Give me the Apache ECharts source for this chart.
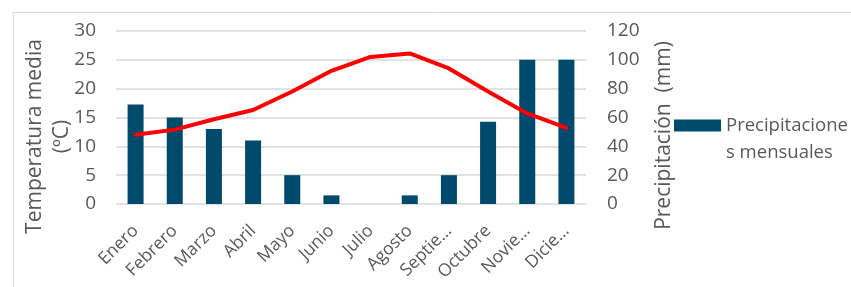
<!DOCTYPE html>
<html>
<head>
<meta charset="utf-8">
<script src="https://cdn.jsdelivr.net/npm/echarts@6/dist/echarts.min.js"></script>
<style>
  html, body { margin: 0; padding: 0; background: #fff; }
  #chart { width: 851px; height: 287px; }
</style>
</head>
<body>
<div id="chart"></div>
<script>
// Meses y etiquetas tal como salen en el eje
var meses = ['Enero', 'Febrero', 'Marzo', 'Abril', 'Mayo', 'Junio', 'Julio', 'Agosto', 'Septiembre', 'Octubre', 'Noviembre', 'Diciembre'];
var etiquetasMes = ['Enero', 'Febrero', 'Marzo', 'Abril', 'Mayo', 'Junio', 'Julio', 'Agosto', 'Septie…', 'Octubre', 'Novie…', 'Dicie…'];

// Temperatura media (ºC) - eje izquierdo
var temperatura = [12.0, 12.9, 14.7, 16.3, 19.5, 23.1, 25.5, 26.1, 23.5, 19.5, 15.7, 13.2];
// Precipitaciones mensuales (mm) - eje derecho
var precipitacion = [69, 60, 52, 44, 20, 6, 0, 6, 20, 57, 100, 100];

var GRIS = '#595959';
var FUENTE = '"Open Sans", "Noto Sans", sans-serif';

var chart = echarts.init(document.getElementById('chart'));

chart.setOption({
    animation: false,
    textStyle: { fontFamily: FUENTE },
    graphic: [{
        type: 'rect',
        left: 11, top: 10,
        shape: { width: 845, height: 290 },
        style: { fill: 'none', stroke: '#d9d9d9', lineWidth: 1 },
        silent: true
    }],
    grid: { left: 116, right: 265, top: 31, bottom: 83, outerBoundsMode: 'none', containLabel: false },
    legend: {
        data: ['Precipitaciones mensuales'],
        left: 674, top: 85,
        padding: 0,
        itemWidth: 47, itemHeight: 12,
        itemGap: 5,
        icon: 'rect',
        // linea vacia arriba para que el rectangulo quede a la altura de la primera linea
        formatter: function () { return '\nPrecipitacione\ns mensuales'; },
        textStyle: { color: GRIS, fontSize: 18.5, lineHeight: 27, fontFamily: FUENTE }
    },
    xAxis: {
        type: 'category',
        data: meses,
        axisTick: { show: false },
        axisLine: { show: false },
        axisLabel: {
            rotate: 45,
            color: GRIS,
            fontSize: 17.5,
            margin: 24,
            interval: 0,
            formatter: function (v, i) { return etiquetasMes[i]; }
        }
    },
    yAxis: [{
        type: 'value',
        min: 0, max: 30, interval: 5,
        name: 'Temperatura media\n(ºC)',
        nameLocation: 'middle',
        nameGap: 40,
        nameMoveOverlap: false,
        nameRotate: 90,
        nameTextStyle: { color: GRIS, fontSize: 21, lineHeight: 27, fontFamily: FUENTE, padding: [0, 38, 0, 0] },
        axisLabel: { color: GRIS, fontSize: 19, margin: 20 },
        axisLine: { show: false },
        axisTick: { show: false },
        splitLine: { lineStyle: { color: '#d9d9d9', width: 1.5 } }
    }, {
        type: 'value',
        min: 0, max: 120, interval: 20,
        name: 'Precipitación  (mm)',
        nameLocation: 'middle',
        nameGap: 68,
        nameMoveOverlap: false,
        nameRotate: 90,
        nameTextStyle: { color: GRIS, fontSize: 21, fontFamily: FUENTE, padding: [0, 36, 0, 0] },
        axisLabel: { color: GRIS, fontSize: 19, margin: 21 },
        axisLine: { show: false },
        axisTick: { show: false },
        splitLine: { show: false }
    }],
    series: [{
        name: 'Precipitaciones mensuales',
        type: 'bar',
        yAxisIndex: 1,
        data: precipitacion,
        barWidth: 16,
        itemStyle: { color: '#004a6e', borderWidth: 0 }
    }, {
        name: 'Temperatura media',
        type: 'line',
        yAxisIndex: 0,
        data: temperatura,
        showSymbol: false,
        symbol: 'none',
        z: 5,
        lineStyle: { color: '#ff0000', width: 4, cap: 'round', join: 'round' }
    }]
});
</script>
</body>
</html>
